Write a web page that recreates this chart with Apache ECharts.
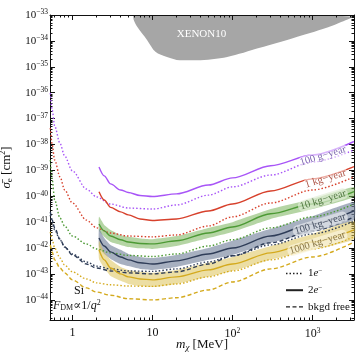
<!DOCTYPE html>
<html><head><meta charset="utf-8">
<script src="https://cdn.jsdelivr.net/npm/echarts@6/dist/echarts.min.js"></script>
<style>html,body{margin:0;padding:0;background:#fff}#c{width:357px;height:355px}</style>
</head><body><div id="c"></div>
<script>
// ---- data (mass in MeV, cross-section in cm^2) ----
const mass1e = [0.53, 0.56, 0.6, 0.7, 0.8, 1, 1.5, 2, 3, 5, 10, 20, 50, 100, 300, 1000, 3300];
const mass2e = [2.15, 2.5, 3, 4, 5, 7, 10, 20, 50, 100, 300, 1000, 3300];

const g100_1e = [9.7e-37, 2.1e-37, 5.2e-38, 1.1e-38, 3.6e-39, 9.5e-40, 1.9e-40, 9.4e-41, 5.0e-41, 3.5e-41, 3.2e-41, 4.6e-41, 1.1e-40, 2.3e-40, 6.6e-40, 2.1e-39, 6.1e-39];
const g100_2e = [1.35e-39, 6.1e-40, 3.0e-40, 1.75e-40, 1.4e-40, 1.07e-40, 9.8e-41, 1.23e-40, 2.7e-40, 5.1e-40, 1.5e-39, 3.9e-39, 1.3e-38];

const kg1_1e = [4.3e-38, 9.6e-39, 2.5e-39, 5.6e-40, 1.75e-40, 5.5e-41, 1.2e-41, 6.0e-42, 3.8e-42, 2.9e-42, 2.7e-42, 3.2e-42, 7.1e-42, 1.6e-41, 5.5e-41, 1.75e-40, 5.6e-40];
const kg1_2e = [1.5e-40, 7.2e-41, 3.7e-41, 2.5e-41, 1.9e-41, 1.33e-41, 1.16e-41, 1.33e-41, 2.7e-41, 5.0e-41, 1.6e-40, 4.7e-40, 1.4e-39];

const kg10_1e = [2.5e-39, 4.3e-40, 7.2e-41, 1.45e-41, 7.1e-42, 2.9e-42, 1.44e-42, 9.2e-43, 6.5e-43, 5.2e-43, 4.7e-43, 5.9e-43, 1.2e-42, 2.1e-42, 6.0e-42, 1.6e-41, 5.0e-41];
const kg10_2e = [8.5e-42, 4.6e-42, 2.9e-42, 2.1e-42, 1.7e-42, 1.5e-42, 1.44e-42, 1.9e-42, 3.8e-42, 6.5e-42, 2.1e-41, 5.0e-41, 1.5e-40];
const kg10_2eHi = [1.6e-41, 7.8e-42, 5.0e-42, 3.2e-42, 2.7e-42, 2.35e-42, 2.2e-42, 2.9e-42, 6.0e-42, 1.0e-41, 3.2e-41, 7.9e-41, 2.3e-40];
const kg10_2eLo = [4.6e-42, 2.7e-42, 1.7e-42, 1.32e-42, 1.1e-42, 9.7e-43, 9.2e-43, 1.2e-42, 2.45e-42, 4.2e-42, 1.33e-41, 3.2e-41, 9.4e-41];

const kg100_1e = [1.9e-41, 1.0e-41, 5.0e-42, 2.1e-42, 1.1e-42, 5.9e-43, 2.9e-43, 2.0e-43, 1.56e-43, 1.3e-43, 1.25e-43, 1.56e-43, 2.9e-43, 5.0e-43, 1.32e-42, 3.5e-42, 1.1e-41];
const kg100_free = [2.5e-41, 1.2e-41, 6.0e-42, 2.2e-42, 1.1e-42, 5.4e-43, 2.4e-43, 1.7e-43, 1.3e-43, 1.1e-43, 1.0e-43, 1.2e-43, 2.4e-43, 5.0e-43, 1.6e-42, 4.6e-42, 1.6e-41];
const kg100_2e = [2.45e-42, 1.2e-42, 7.1e-43, 4.5e-43, 3.5e-43, 2.7e-43, 2.4e-43, 3.2e-43, 5.9e-43, 1.0e-42, 2.9e-42, 8.5e-42, 2.7e-41];
const kg100_2eHi = [5.5e-42, 2.45e-42, 1.32e-42, 8.5e-43, 5.9e-43, 4.5e-43, 4.1e-43, 5.4e-43, 1.0e-42, 1.9e-42, 5.5e-42, 1.7e-41, 6.0e-41];
const kg100_2eLo = [1.1e-42, 5.9e-43, 3.8e-43, 2.4e-43, 2.0e-43, 1.56e-43, 1.43e-43, 1.86e-43, 3.5e-43, 5.4e-43, 1.6e-42, 4.2e-42, 1.2e-41];

const kg1000_1e = [4.2e-42, 2.1e-42, 1.0e-42, 4.1e-43, 2.2e-43, 1.2e-43, 6.4e-44, 4.5e-44, 3.8e-44, 3.4e-44, 3.3e-44, 4.1e-44, 7.7e-44, 1.3e-43, 3.5e-43, 9.2e-43, 2.7e-42];
const kg1000_free = [1.32e-42, 7.1e-43, 3.5e-43, 1.7e-43, 1.1e-43, 5.9e-44, 2.9e-44, 2.0e-44, 1.5e-44, 1.1e-44, 9.9e-45, 1.2e-44, 2.4e-44, 4.9e-44, 1.56e-43, 4.5e-43, 1.7e-42];
const kg1000_2e = [8.5e-43, 3.5e-43, 1.7e-43, 1.0e-43, 7.7e-44, 6.4e-44, 5.9e-44, 7.7e-44, 1.43e-43, 2.4e-43, 6.5e-43, 1.7e-42, 5.0e-42];
const kg1000_2eHi = [1.9e-42, 7.1e-43, 3.5e-43, 1.86e-43, 1.43e-43, 1.2e-43, 1.1e-43, 1.43e-43, 2.7e-43, 4.5e-43, 1.2e-42, 3.5e-42, 1.1e-41];
const kg1000_2eLo = [3.8e-43, 1.7e-43, 8.4e-44, 5.4e-44, 4.1e-44, 3.4e-44, 3.1e-44, 4.1e-44, 7.7e-44, 1.3e-43, 3.5e-43, 8.5e-43, 2.2e-42];

const xenonMass = [5.75, 5.85, 6.45, 8.6, 10.9, 15.2, 22, 36, 86, 220, 580, 1500, 3300];
const xenonSigma = [1e-33, 6.4e-34, 3.5e-34, 1.07e-34, 3.8e-35, 2.4e-35, 1.8e-35, 1.8e-35, 2.4e-35, 5.4e-35, 1.3e-34, 3.2e-34, 8.6e-34];

const exposureLabels = ['100 g\u2212year', '1 kg\u2212year', '10 kg\u2212year', '100 kg\u2212year', '1000 kg\u2212year'];
const labelMass = [1350, 1450, 1350, 1250, 1150];
const labelSigma = [3.6e-39, 4.7e-40, 7.2e-41, 8.5e-42, 1.58e-42];

const xTickValues = [1, 10, 100, 1000];
const yTickValues = [1e-44, 1e-43, 1e-42, 1e-41, 1e-40, 1e-39, 1e-38, 1e-37, 1e-36, 1e-35, 1e-34, 1e-33];
const xMin = 0.525, xMax = 3300, yMin = 1.66e-45, yMax = 1e-33;

// ---- helpers ----
// The cross-section axis is drawn as a linear axis of log10(sigma) (ECharts' log scale
// rounds extents below 1e-20 to zero), with ticks placed at decades.
const FONT = '"Liberation Serif", "DejaVu Serif", serif';
const lg = Math.log10;
function pairs(xs, ys) { return xs.map((x, i) => [x, lg(ys[i])]); }
function minorTicks(lo, hi, toLog) {
  const out = [];
  for (let e = Math.floor(lg(lo)) - 1; e <= Math.ceil(lg(hi)); e++) {
    for (let k = 2; k <= 9; k++) {
      const v = k * Math.pow(10, e);
      if (v > lo && v < hi) out.push(toLog ? lg(k) + e : v);
    }
  }
  return out;
}
const xMinor = minorTicks(xMin, xMax, false);
const yMinor = minorTicks(yMin, yMax, true);
const yMajor = yTickValues.map(v => Math.round(lg(v)));

function lineS(xs, ys, color, type, width) {
  return { type: 'line', data: pairs(xs, ys), symbol: 'none', smooth: 0.3, smoothMonotone: 'x',
    lineStyle: { color: color, width: width || 1.4, type: type }, z: 3, silent: true, animation: false };
}
function band(lo, hi, color) {
  return { type: 'custom', silent: true, z: 1, animation: false, data: [[mass2e[0], lg(hi[0])]],
    renderItem: function (params, api) {
      const pts = [];
      for (let i = 0; i < mass2e.length; i++) pts.push(api.coord([mass2e[i], lg(hi[i])]));
      for (let i = mass2e.length - 1; i >= 0; i--) pts.push(api.coord([mass2e[i], lg(lo[i])]));
      return { type: 'polygon', shape: { points: pts, smooth: 0.15 }, style: { fill: color } };
    } };
}

const DOT = [1.5, 2];
const DASH = [4, 2.5];
const C = { purple: '#a855f7', red: '#d7412c', green: '#4d9a35', greenBand: 'rgba(120,178,90,0.55)',
  slate: '#2f3d58', slateBand: 'rgba(120,134,158,0.65)', yellow: '#d4aa1e', yellowBand: 'rgba(220,195,90,0.55)' };
const labelColors = ['#5a3d9a', '#9a2a1a', '#2f5a1f', '#1f2a40', '#6a5520'];
const labelBg = ['rgba(255,255,255,0.7)', 'rgba(255,255,255,0.7)', 'rgba(225,238,215,0.85)', 'rgba(228,231,236,0.9)', 'rgba(250,244,220,0.9)'];

const series = [
  { type: 'line', data: pairs(xenonMass, xenonSigma), symbol: 'none', smooth: 0.3, silent: true, animation: false,
    lineStyle: { width: 0 }, areaStyle: { origin: 'end', color: '#a6a6a6', opacity: 1 }, z: 0,
    markPoint: { symbol: 'circle', symbolSize: 0, silent: true,
      label: { show: true, formatter: 'XENON10', color: '#fff', fontFamily: FONT, fontSize: 11 },
      data: [{ coord: [41, lg(1.9e-34)] }] } },
  band(kg10_2eLo, kg10_2eHi, C.greenBand),
  band(kg100_2eLo, kg100_2eHi, C.slateBand),
  band(kg1000_2eLo, kg1000_2eHi, C.yellowBand),
  lineS(mass1e, g100_1e, C.purple, DOT),
  lineS(mass2e, g100_2e, C.purple, 'solid'),
  lineS(mass1e, kg1_1e, C.red, DOT),
  lineS(mass2e, kg1_2e, C.red, 'solid'),
  lineS(mass1e, kg10_1e, C.green, DOT),
  lineS(mass2e, kg10_2e, C.green, 'solid'),
  lineS(mass1e, kg100_1e, C.slate, DOT),
  lineS(mass1e, kg100_free, C.slate, DASH),
  lineS(mass2e, kg100_2e, C.slate, 'solid'),
  lineS(mass1e, kg1000_1e, C.yellow, DOT),
  lineS(mass1e, kg1000_free, C.yellow, DASH),
  lineS(mass2e, kg1000_2e, C.yellow, 'solid'),
  { type: 'scatter', symbolSize: 0, silent: true, animation: false, z: 6,
    data: labelMass.map((m, i) => ({ value: [m, lg(labelSigma[i])],
      label: { show: true, position: 'inside', formatter: exposureLabels[i], rotate: 17,
        color: labelColors[i], fontFamily: FONT, fontSize: 10.5,
        backgroundColor: labelBg[i], borderRadius: 5, padding: [0, 2] } })) }
];

const AX = '#111';
const supRich = { sup: { fontSize: 7.5, fontFamily: FONT, color: AX, verticalAlign: 'top', padding: [0, 0, 5, 0] } };
function xAxisDef(pos, ticks, len, showLabel, showLine) {
  return { type: 'log', min: xMin, max: xMax, position: pos, gridIndex: 0,
    axisLine: { show: showLine, onZero: false, lineStyle: { color: AX, width: 1 } },
    axisTick: { show: true, inside: true, length: len, customValues: ticks, lineStyle: { color: AX, width: 1 } },
    axisLabel: showLabel ? { show: true, customValues: ticks, margin: 7, fontFamily: FONT, fontSize: 12, color: AX,
      formatter: function (v) { const n = Math.round(lg(v)); return n === 0 ? '1' : n === 1 ? '10' : '10{sup|' + n + '}'; },
      rich: supRich } : { show: false },
    splitLine: { show: false } };
}
function yAxisDef(pos, ticks, len, showLabel, showLine) {
  return { type: 'value', min: lg(yMin), max: lg(yMax), position: pos, gridIndex: 0,
    axisLine: { show: showLine, onZero: false, lineStyle: { color: AX, width: 1 } },
    axisTick: { show: true, inside: true, length: len, customValues: ticks, lineStyle: { color: AX, width: 1 } },
    axisLabel: showLabel ? { show: true, customValues: ticks, margin: 2, fontFamily: FONT, fontSize: 11, color: AX,
      formatter: function (v) { const n = Math.round(v); return '10{sup|' + (n < 0 ? '\u2212' + (-n) : n) + '}'; },
      rich: supRich } : { show: false },
    splitLine: { show: false } };
}

const xAxes = [xAxisDef('bottom', xTickValues, 5, true, true), xAxisDef('bottom', xMinor, 2.5, false, false),
  xAxisDef('top', xTickValues, 5, false, true), xAxisDef('top', xMinor, 2.5, false, false)];
Object.assign(xAxes[0], { name: '{i|m}{sub|\u03c7} [MeV]', nameLocation: 'middle', nameGap: 18, nameMoveOverlap: false,
  nameTextStyle: { fontFamily: FONT, fontSize: 13, color: AX,
    rich: { i: { fontStyle: 'italic', fontFamily: FONT, fontSize: 13 }, sub: { fontStyle: 'italic', fontFamily: FONT, fontSize: 9, verticalAlign: 'bottom', padding: [5, 0, 0, 0] } } } });
const yAxes = [yAxisDef('left', yMajor, 5, true, true), yAxisDef('left', yMinor, 2.5, false, false),
  yAxisDef('right', yMajor, 5, false, true), yAxisDef('right', yMinor, 2.5, false, false)];
Object.assign(yAxes[0], { name: '{i|\u03c3\u0304}{sub|e} [cm{sup|2}]', nameLocation: 'middle', nameGap: 36, nameMoveOverlap: false,
  nameTextStyle: { fontFamily: FONT, fontSize: 13, color: AX,
    rich: { i: { fontStyle: 'italic', fontFamily: FONT, fontSize: 13 }, sub: { fontFamily: FONT, fontSize: 9, verticalAlign: 'bottom', padding: [6, 0, 0, 0] },
      sup: { fontFamily: FONT, fontSize: 8, verticalAlign: 'top', padding: [0, 0, 6, 0] } } } });

const legendItems = [['1{i|e}{sup|\u2212}', DOT, 1.4], ['2{i|e}{sup|\u2212}', 'solid', 2], ['bkgd free', DASH, 1.4]];
const richSmall = { i: { fontStyle: 'italic', fontFamily: FONT, fontSize: 11 }, sup: { fontFamily: FONT, fontSize: 7, verticalAlign: 'top', padding: [0, 0, 5, 0] } };
const legendGraphics = [];
legendItems.forEach((it, i) => {
  const y = 273.5 + i * 16.7;
  legendGraphics.push({ type: 'line', shape: { x1: 286, y1: y, x2: 303, y2: y }, style: { stroke: '#222', lineWidth: it[2], lineDash: it[1] === 'solid' ? null : it[1] } });
  legendGraphics.push({ type: 'text', x: 308, y: y, style: { text: it[0], fontFamily: FONT, fontSize: 11, fill: '#111', verticalAlign: 'middle', rich: richSmall } });
});

const chart = echarts.init(document.getElementById('c'), null, { renderer: 'canvas' });
chart.setOption({
  animation: false,
  backgroundColor: '#fff',
  grid: { left: 50, right: 3, top: 15, bottom: 35, containLabel: false, outerBoundsMode: 'none' },
  xAxis: xAxes,
  yAxis: yAxes,
  graphic: [
    { type: 'text', x: 74, y: 285, style: { text: 'Si', fontFamily: FONT, fontSize: 12, fill: '#111' } },
    { type: 'text', x: 53, y: 299, style: { text: '{i|F}{sub|DM}{n|\u221d1/}{i|q}{sup|2}', fontFamily: FONT, fontSize: 12, fill: '#111',
      rich: { i: { fontStyle: 'italic', fontFamily: FONT, fontSize: 12 }, n: { fontFamily: FONT, fontSize: 12 },
        sub: { fontFamily: FONT, fontSize: 8, verticalAlign: 'bottom', padding: [5, 0, 0, 0] },
        sup: { fontFamily: FONT, fontSize: 8, verticalAlign: 'top', padding: [0, 0, 5, 0] } } } }
  ].concat(legendGraphics),
  series: series.map(s => Object.assign({ xAxisIndex: 0, yAxisIndex: 0 }, s))
});
</script></body></html>
